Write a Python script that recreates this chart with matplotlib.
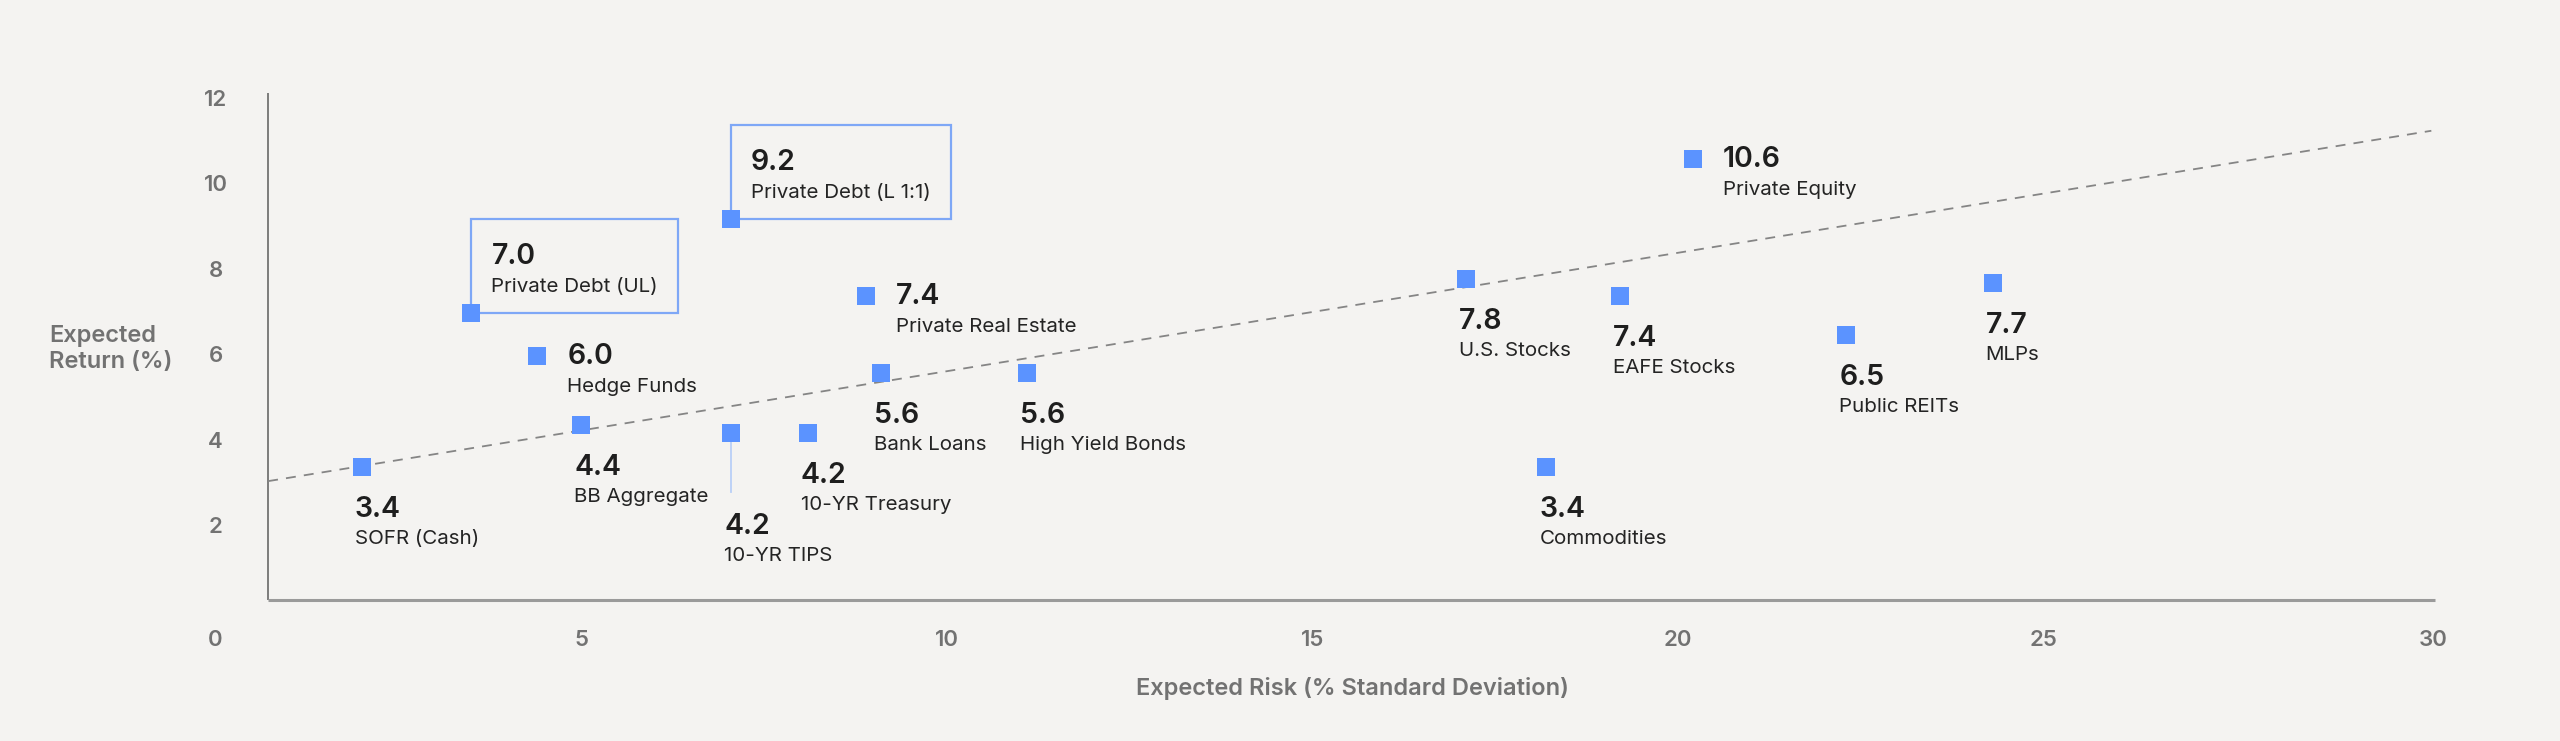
import matplotlib
matplotlib.use("Agg")
import matplotlib.pyplot as plt
from matplotlib.patches import Rectangle

# data
assets = ["SOFR (Cash)", "Private Debt (UL)", "Hedge Funds", "BB Aggregate",
          "10-YR TIPS", "10-YR Treasury", "Private Debt (L 1:1)",
          "Private Real Estate", "Bank Loans", "High Yield Bonds", "U.S. Stocks",
          "Commodities", "EAFE Stocks", "Private Equity", "Public REITs", "MLPs"]
risk = [2.0, 3.5, 4.4, 5.0, 7.05, 8.1, 7.05, 8.9, 9.1, 11.1, 17.1, 18.2,
        19.2, 20.2, 22.3, 24.3]
ret = [3.4, 7.0, 6.0, 4.4, 4.2, 4.2, 9.2, 7.4, 5.6, 5.6, 7.8, 3.4, 7.4,
       10.6, 6.5, 7.7]
trend_x = [0.72, 30.3]
trend_y = [3.08, 11.27]
x_ticks = [0, 5, 10, 15, 20, 25, 30]
y_ticks = [2, 4, 6, 8, 10, 12]

# where each label sits relative to its marker
label_style = ["below", "box", "right", "below", "drop", "below", "box",
               "right", "below", "below", "below", "below", "below", "right",
               "below", "below"]

BG = "#f4f3f1"
BLUE = "#5b93ff"
GREY = "#727272"
FONT = ["Inter", "DejaVu Sans"]
plt.rcParams["font.family"] = FONT

W, H = 2560, 741
fig = plt.figure(figsize=(W / 100, H / 100), dpi=100, facecolor=BG)
ax = fig.add_axes([0, 0, 1, 1], facecolor=BG)

# pixel geometry: x=0 at 215.5px, 73.13 px/unit; y=0 at 612.9px from top, 42.78 px/unit
x0, xu = 215.5, 73.13
y0, yu = 612.9, 42.78
ax.set_xlim(-x0 / xu, (W - x0) / xu)
ax.set_ylim(-(H - y0) / yu, y0 / yu)
ax.axis("off")

# axes lines
spine_x, spine_y = 0.717, 0.31
ax.plot([spine_x, spine_x], [spine_y, 12.16], color="#5c5c5c", lw=1.1,
        solid_capstyle="butt", zorder=1)
ax.plot([spine_x, 30.35], [spine_y, spine_y], color="#9a9a9a", lw=2.2,
        solid_capstyle="butt", zorder=1)

# tick labels
for v in y_ticks:
    ax.text(0, v, str(v), ha="center", va="center", fontsize=16,
            color=GREY, fontweight="semibold")
for v in x_ticks:
    dx = 24 if v == x_ticks[-1] else 0
    ax.annotate(str(v), (v, -0.633), xytext=(dx, 0), textcoords="offset pixels",
                ha="center", va="center", fontsize=16, color=GREY,
                fontweight="semibold")

fig.text(49 / W, 1 - 349 / H, "Expected\nReturn (%)", ha="left", va="center",
         fontsize=17, color=GREY, fontweight="semibold", linespacing=1.25)
fig.text(1352 / W, 1 - 688 / H, "Expected Risk (% Standard Deviation)",
         ha="center", va="center", fontsize=17, color=GREY,
         fontweight="semibold")

# trend line
ax.plot(trend_x, trend_y, color="#858585", lw=1.3, dashes=(5.5, 4.5), zorder=2)

# markers
ax.scatter(risk, ret, marker="s", s=12.5 ** 2, color=BLUE, linewidths=0,
           zorder=4)

offsets = {
    "below": (-7, -50, -77),
    "right": (30, -8, -36),
    "box": (20, 49, 21),
    "drop": (-7, -101, -128),
}

boxed = []
for x, y, name, st in zip(risk, ret, assets, label_style):
    dx, dv, dn = offsets[st]
    t1 = ax.annotate(f"{y:.1f}", (x, y), xytext=(dx, dv), textcoords="offset pixels",
                     ha="left", va="baseline", fontsize=20.5, color="#1e1e1e",
                     fontweight="semibold", zorder=5)
    t2 = ax.annotate(name, (x, y), xytext=(dx, dn), textcoords="offset pixels",
                     ha="left", va="baseline", fontsize=14.8, color="#242424",
                     zorder=5)
    if st == "drop":
        px, py = ax.transData.transform((x, y))
        _, ly = ax.transData.inverted().transform((px, py - 59))
        ax.plot([x, x], [y, ly], color="#b9cff7", lw=1.3, zorder=3)
    if st == "box":
        boxed.append((x, y, t1, t2))

fig.canvas.draw()
r = fig.canvas.get_renderer()
for x, y, t1, t2 in boxed:
    px, py = ax.transData.transform((x, y))
    right = max(t1.get_window_extent(r).x1, t2.get_window_extent(r).x1) + 20
    inv = ax.transData.inverted()
    (bx1, by1) = inv.transform((right, py + 94))
    ax.add_patch(Rectangle((x, y), bx1 - x, by1 - y, fill=False,
                           edgecolor="#7ea7f6", lw=1.6, zorder=3))

fig.savefig("out.png", dpi=100, facecolor=BG)
